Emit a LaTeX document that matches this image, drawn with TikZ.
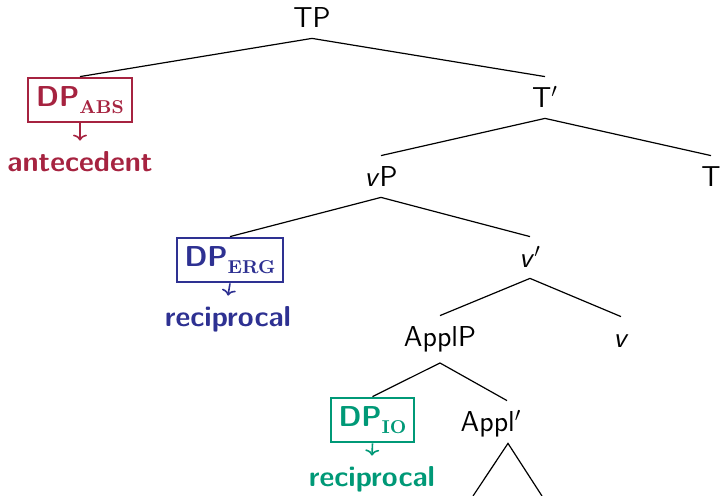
\documentclass[tikz,border=0pt]{standalone}
\usepackage{fontspec}
\usetikzlibrary{arrows.meta}
\definecolor{absred}{RGB}{166,35,64}
\definecolor{ergblue}{RGB}{46,49,146}
\definecolor{iogreen}{RGB}{0,153,119}
\newcommand{\dpsub}[1]{\raisebox{-3.3pt}{\fontsize{9.3}{10}\selectfont\rmfamily\bfseries #1}}
\begin{document}
\begin{tikzpicture}[x=0.5pt,y=-0.5pt,
  every node/.style={font=\sffamily\fontsize{14.4}{17}\selectfont},
  lbl/.style={anchor=base, inner xsep=0pt, inner ysep=5pt, text height=10.5pt},
  branch/.style={line width=0.6pt},
  dpbox/.style={draw=#1, text=#1, line width=1pt, inner xsep=4pt, inner ysep=4.2pt, text height=10.5pt, text depth=3.5pt, font=\sffamily\bfseries\fontsize{14.4}{17}\selectfont},
  ante/.style={text=#1, anchor=base, inner sep=0pt, text height=15.5pt, font=\sffamily\bfseries\fontsize{14.4}{17}\selectfont},
  ptr/.style={draw=#1, line width=0.8pt, -{To[length=3pt,width=7pt]}}
]
\useasboundingbox (0,0) rectangle (720,496);
% tree labels
\node[lbl] (TP) at (312,28) {TP};
\node[lbl] (Tbar) at (545,108) {T$'$};
\node[lbl] (T) at (711,187) {T};
\node[lbl] (vP) at (381,187) {\textit{v}P};
\node[lbl] (vbar) at (530,268) {\textit{v}$'$};
\node[lbl] (v) at (621,348) {\textit{v}};
\node[lbl] (ApplP) at (440,347) {ApplP};
\node[lbl] (Applbar) at (491,432) {Appl$'$};
% boxed DPs
\node[dpbox=absred] (abs) at (80,100) {DP\dpsub{ABS}};
\node[dpbox=ergblue] (erg) at (230,260) {DP\dpsub{ERG}};
\node[dpbox=iogreen] (io) at (372.5,420) {DP\dpsub{IO}};
\node[ante=absred] (ante) at (80,172) {antecedent};
\node[ante=ergblue] (recA) at (228,327) {reciprocal};
\node[ante=iogreen] (recB) at (372,487) {reciprocal};
% branches
\draw[branch] (TP.south) -- (abs.north);
\draw[branch] (TP.south) -- (Tbar.north);
\draw[branch] (Tbar.south) -- (vP.north);
\draw[branch] (Tbar.south) -- (T.north);
\draw[branch] (vP.south) -- (erg.north);
\draw[branch] (vP.south) -- (vbar.north);
\draw[branch] (vbar.south) -- (ApplP.north);
\draw[branch] (vbar.south) -- (v.north);
\draw[branch] (ApplP.south) -- (io.north);
\draw[branch] (ApplP.south) -- ([xshift=8pt]Applbar.north);
\coordinate (triTop) at ([shift={(8.5pt,2.3pt)}]Applbar.south);
\coordinate (triL) at (473,496);
\coordinate (triR) at (542,496);
\draw[branch] (triL) -- (triTop) -- (triR);
% arrows
\draw[ptr=absred] (abs.south) -- (ante.north);
\draw[ptr=ergblue] (erg.south) -- (recA.north);
\draw[ptr=iogreen] (io.south) -- (recB.north);
\end{tikzpicture}
\end{document}
